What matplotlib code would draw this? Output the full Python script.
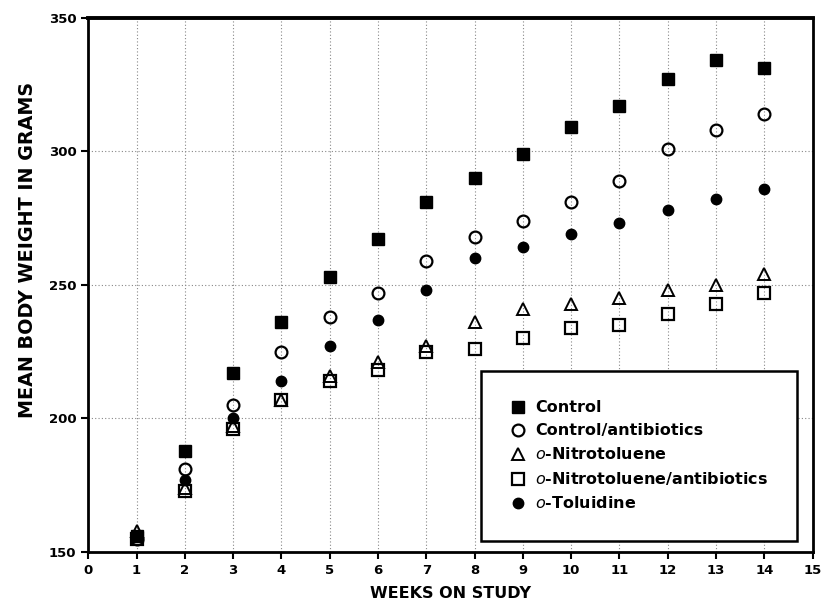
import matplotlib.pyplot as plt

# weeks on study
weeks = list(range(1, 15))

# mean body weights (g)
control = [156, 188, 217, 236, 253, 267, 281, 290, 299, 309, 317, 327, 334, 331]
control_ab = [155, 181, 205, 225, 238, 247, 259, 268, 274, 281, 289, 301, 308, 314]
nitro = [158, 174, 197, 207, 216, 221, 227, 236, 241, 243, 245, 248, 250, 254]
nitro_ab = [155, 173, 196, 207, 214, 218, 225, 226, 230, 234, 235, 239, 243, 247]
toluidine = [156, 177, 200, 214, 227, 237, 248, 260, 264, 269, 273, 278, 282, 286]

labels = ['Control', 'Control/antibiotics', r'$\it{o}$-Nitrotoluene',
          r'$\it{o}$-Nitrotoluene/antibiotics', r'$\it{o}$-Toluidine']

fig = plt.figure(figsize=(8.25, 6.1), dpi=100)
ax = fig.add_axes([0.107, 0.095, 0.878, 0.876])

ms = 8.5
ax.plot(weeks, control, 's', color='black', ms=ms, label=labels[0], zorder=3)
ax.plot(weeks, control_ab, 'o', mfc='none', mec='black', mew=1.6, ms=ms, label=labels[1], zorder=4)
ax.plot(weeks, nitro, '^', mfc='none', mec='black', mew=1.4, ms=ms - 0.5, label=labels[2], zorder=4)
ax.plot(weeks, nitro_ab, 's', mfc='none', mec='black', mew=1.6, ms=ms, label=labels[3], zorder=4)
ax.plot(weeks, toluidine, 'o', color='black', ms=ms - 1, label=labels[4], zorder=3)

ax.set_xlim(0, 15)
ax.set_ylim(150, 350)
ax.set_xticks(range(0, 16))
ax.set_yticks([150, 200, 250, 300, 350])

# dotted grid only at interior positions
for w in weeks:
    ax.axvline(w, color='#888888', ls=(0, (1, 2)), lw=0.8, zorder=1)
for v in [200, 250, 300]:
    ax.axhline(v, color='#888888', ls=(0, (1, 2)), lw=0.8, zorder=1)

for s in ax.spines.values():
    s.set_linewidth(2)
ax.spines['top'].set_linewidth(2.8)
ax.tick_params(direction='out', length=5, width=1.5, labelsize=9.5)
for t in ax.get_xticklabels() + ax.get_yticklabels():
    t.set_fontweight('bold')

ax.set_xlabel('WEEKS ON STUDY', fontsize=11.5, fontweight='bold')
ax.xaxis.set_label_coords(0.5, -0.064)
ax.set_ylabel('MEAN BODY WEIGHT IN GRAMS', fontsize=13.8, fontweight='bold', va='center')
ax.yaxis.set_label_coords(-0.084, 0.566)

leg = ax.legend(loc='lower right', bbox_to_anchor=(0.979, 0.021), fontsize=11.5,
                frameon=True, fancybox=False, edgecolor='black', handletextpad=0.55,
                borderpad=1.85, labelspacing=0.5, handlelength=1.0, borderaxespad=0,
                framealpha=1)
leg.get_frame().set_linewidth(1.8)
for t in leg.get_texts():
    t.set_fontweight('bold')

fig.savefig('out.png', dpi=100)
